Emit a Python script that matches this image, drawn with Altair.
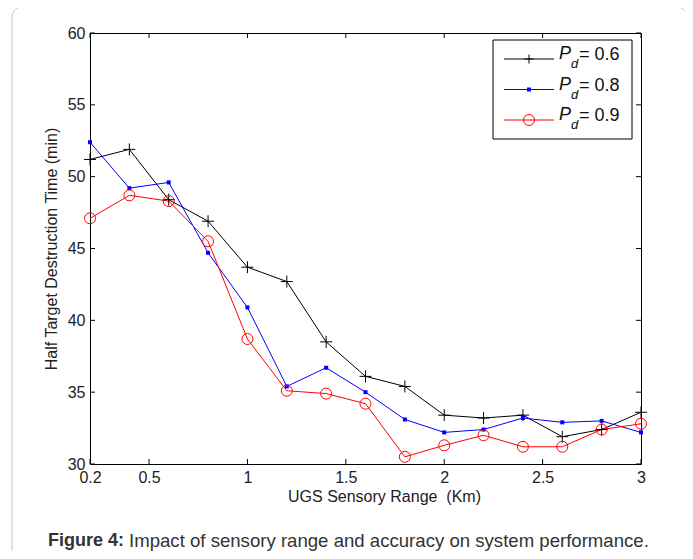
import altair as alt
import pandas as pd

# ---- data ----
x_range = [0.2, 0.4, 0.6, 0.8, 1.0, 1.2, 1.4, 1.6, 1.8, 2.0, 2.2, 2.4, 2.6, 2.8, 3.0]
pd_06 = [51.2, 51.9, 48.4, 46.9, 43.7, 42.7, 38.5, 36.1, 35.4, 33.4, 33.2, 33.4, 31.9, 32.4, 33.6]
pd_08 = [52.4, 49.2, 49.6, 44.7, 40.9, 35.4, 36.7, 35.0, 33.1, 32.2, 32.4, 33.2, 32.9, 33.0, 32.2]
pd_09 = [47.1, 48.7, 48.3, 45.5, 38.7, 35.1, 34.9, 34.2, 30.5, 31.3, 32.0, 31.2, 31.2, 32.4, 32.8]
series_labels = ["0.6", "0.8", "0.9"]
x_ticks = [0.2, 0.5, 1, 1.5, 2, 2.5, 3]
y_ticks = [30, 35, 40, 45, 50, 55, 60]

W, H = 551, 431
FONT = "Liberation Sans"

rows = []
for lab, vals in zip(series_labels, [pd_06, pd_08, pd_09]):
    for xv, yv in zip(x_range, vals):
        rows.append({"series": lab, "x": xv, "y": yv})
df = pd.DataFrame(rows)

xs = alt.Scale(domain=[0.2, 3], nice=False, zero=False)
ys = alt.Scale(domain=[30, 60], nice=False, zero=False)
colors = ["#000000", "#0000ff", "#ff0000"]
cscale = alt.Scale(domain=series_labels, range=colors)
PLUS = "M-1,0L1,0M0,-1L0,1"

lines = alt.Chart(df).mark_line(strokeWidth=1).encode(
    x=alt.X("x:Q", scale=xs,
            axis=alt.Axis(values=x_ticks, labelExpr="toString(datum.value)", tickSize=0,
                          domain=False, grid=False, labelPadding=5, labelFontSize=16,
                          labelFlush=False, labelOverlap=False,
                          labelFont=FONT, labelColor="#222",
                          title="UGS Sensory Range\u00a0\u00a0(Km)",
                          titleFont=FONT, titleFontSize=16, titleFontWeight="normal",
                          titleColor="#222", titlePadding=3, titleX=294)),
    y=alt.Y("y:Q", scale=ys,
            axis=alt.Axis(values=y_ticks, format="d", tickSize=0, domain=False, grid=False,
                          labelPadding=5, labelFontSize=16, labelFont=FONT, labelColor="#222",
                          labelFlush=False, labelOverlap=False,
                          title="Half Target Destruction Time (min)", titleFont=FONT,
                          titleFontSize=16, titleFontWeight="normal", titleColor="#222",
                          titlePadding=8)),
    color=alt.Color("series:N", scale=cscale, legend=None),
    detail="series:N",
)

pts_06 = alt.Chart(df).transform_filter(alt.datum.series == "0.6").mark_point(
    shape=PLUS, size=144, filled=False, stroke="#000000", strokeWidth=1, opacity=1
).encode(x=alt.X("x:Q", scale=xs), y=alt.Y("y:Q", scale=ys))
pts_08 = alt.Chart(df).transform_filter(alt.datum.series == "0.8").mark_point(
    shape="square", size=16, filled=True, color="#0000ff", opacity=1
).encode(x=alt.X("x:Q", scale=xs), y=alt.Y("y:Q", scale=ys))
pts_09 = alt.Chart(df).transform_filter(alt.datum.series == "0.9").mark_point(
    shape="circle", size=121, filled=False, stroke="#ff0000", strokeWidth=1, opacity=1
).encode(x=alt.X("x:Q", scale=xs), y=alt.Y("y:Q", scale=ys))

# inward ticks (MATLAB style)
xt = pd.DataFrame({"v": x_ticks})
yt = pd.DataFrame({"v": y_ticks})
xt_bot = alt.Chart(xt).mark_rule(color="black", strokeWidth=1).encode(
    x=alt.X("v:Q", scale=xs), y=alt.value(H), y2=alt.value(H - 5))
xt_top = alt.Chart(xt).mark_rule(color="black", strokeWidth=1).encode(
    x=alt.X("v:Q", scale=xs), y=alt.value(0), y2=alt.value(5))
yt_left = alt.Chart(yt).mark_rule(color="black", strokeWidth=1).encode(
    y=alt.Y("v:Q", scale=ys), x=alt.value(0), x2=alt.value(5))
yt_right = alt.Chart(yt).mark_rule(color="black", strokeWidth=1).encode(
    y=alt.Y("v:Q", scale=ys), x=alt.value(W), x2=alt.value(W - 5))

# legend
leg = pd.DataFrame({"series": series_labels, "i": [0, 1, 2]})
one = pd.DataFrame({"a": [0]})
leg_box = alt.Chart(one).mark_rect(fill="white", stroke="black", strokeWidth=1).encode(
    x=alt.value(403), x2=alt.value(542), y=alt.value(7), y2=alt.value(106))
legbase = alt.Chart(leg).transform_calculate(ly="26 + 30.5 * datum.i")
leg_lines = legbase.mark_rule(strokeWidth=1).encode(
    x=alt.value(414), x2=alt.value(464), y=alt.Y("ly:Q", scale=None),
    color=alt.Color("series:N", scale=cscale, legend=None))
leg_p06 = legbase.transform_filter(alt.datum.i == 0).mark_point(
    shape=PLUS, size=81, filled=False, stroke="#000000", strokeWidth=1, opacity=1
).encode(x=alt.value(439), y=alt.Y("ly:Q", scale=None))
leg_p08 = legbase.transform_filter(alt.datum.i == 1).mark_point(
    shape="square", size=16, filled=True, color="#0000ff", opacity=1
).encode(x=alt.value(439), y=alt.Y("ly:Q", scale=None))
leg_p09 = legbase.transform_filter(alt.datum.i == 2).mark_point(
    shape="circle", size=121, filled=False, stroke="#ff0000", strokeWidth=1, opacity=1
).encode(x=alt.value(439), y=alt.Y("ly:Q", scale=None))
leg_P = legbase.transform_calculate(ty="datum.ly - 5").mark_text(
    text="P", font=FONT, fontSize=18, fontStyle="italic", align="left", baseline="middle",
    color="#111").encode(x=alt.value(469), y=alt.Y("ty:Q", scale=None))
leg_d = legbase.transform_calculate(ty="datum.ly + 5").mark_text(
    text="d", font=FONT, fontSize=13, fontStyle="italic", align="left", baseline="middle",
    color="#111").encode(x=alt.value(481), y=alt.Y("ty:Q", scale=None))
leg_val = legbase.transform_calculate(ty="datum.ly - 4", tt="'= ' + datum.series").mark_text(
    font=FONT, fontSize=18, align="left", baseline="middle", color="#111").encode(
    x=alt.value(489), y=alt.Y("ty:Q", scale=None), text="tt:N")

# caption and frame
cap_df = pd.DataFrame({"bold": ["Figure 4:"],
                       "rest": ["Impact of sensory range and accuracy on system performance."]})
cap_bold = alt.Chart(cap_df).mark_text(font=FONT, fontSize=18, fontWeight="bold", align="left",
                                       baseline="middle", color="#333").encode(
    x=alt.value(-42), y=alt.value(508), text="bold:N")
cap_rest = alt.Chart(cap_df).mark_text(font=FONT, fontSize=18.6, align="left",
                                       baseline="middle", color="#333").encode(
    x=alt.value(39), y=alt.value(508), text="rest:N")
frame = alt.Chart(one).mark_rect(fillOpacity=0, stroke="#c8c8c8", strokeWidth=1,
                                 cornerRadius=10).encode(
    x=alt.value(-78), x2=alt.value(597), y=alt.value(-26), y2=alt.value(560))

chart = alt.layer(
    frame, lines, pts_06, pts_08, pts_09, xt_bot, xt_top, yt_left, yt_right,
    leg_box, leg_lines, leg_p06, leg_p08, leg_p09, leg_P, leg_d, leg_val,
    cap_bold, cap_rest,
).properties(
    width=W, height=H,
    autosize=alt.AutoSizeParams(type="none"),
    padding={"left": 82, "top": 25, "right": 44, "bottom": 87},
    background="white",
).configure_view(stroke="black", strokeWidth=1)

chart.save("out.html", embed_options={"renderer": "svg", "actions": False})
